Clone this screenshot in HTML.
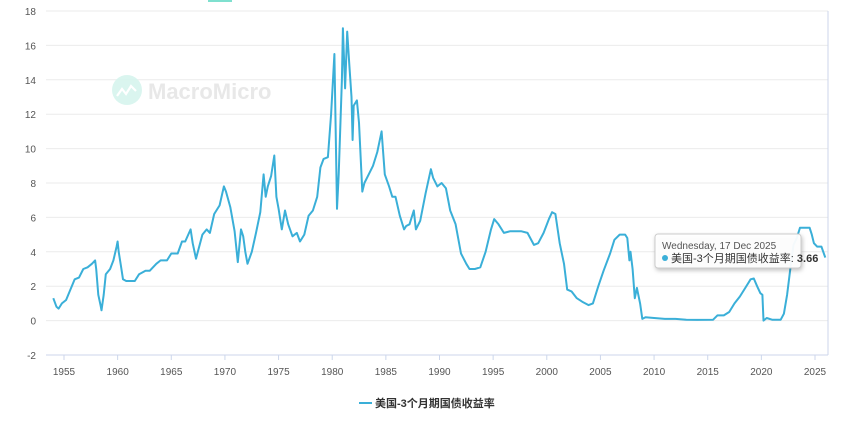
<!DOCTYPE html>
<html><head><meta charset="utf-8"><style>
body{margin:0;background:#fff;width:852px;height:424px;overflow:hidden;font-family:"Liberation Sans","Noto Sans CJK SC",sans-serif}
svg text{font-family:"Liberation Sans","Noto Sans CJK SC",sans-serif}
</style></head><body>
<svg id="chart" width="852" height="424" xmlns="http://www.w3.org/2000/svg">
<rect x="208" y="0" width="24" height="2" fill="#7fe0cf"/>
<g id="grid"></g>
<g opacity="0.9">
<circle cx="127" cy="90" r="15" fill="#d6f5ee"/>
<path d="M117 96 l5-7 4 5 5-8 5 5" stroke="#fff" stroke-width="2.2" fill="none"/>
<text x="148" y="99" font-size="22" font-weight="bold" fill="#e6e6e6">MacroMicro</text>
</g>
<g id="xaxis"></g>
<g id="yaxis"></g>
<path id="line" fill="none" stroke="#3aafd8" stroke-width="2" stroke-linejoin="round"/>
<g>
<rect x="655" y="234" width="146" height="34" rx="3" fill="#fff" fill-opacity="0.95" stroke="#ccc" style="filter:drop-shadow(1px 2px 2px rgba(0,0,0,0.25))"/>
<text x="662" y="249" font-size="10" fill="#555">Wednesday, 17 Dec 2025</text>
<circle cx="665" cy="258" r="3" fill="#3aafd8"/>
<text x="671" y="262" font-size="11" fill="#333">美国-3个月期国债收益率: <tspan font-weight="bold">3.66</tspan></text>
</g>
<g>
<line x1="359" y1="403" x2="372" y2="403" stroke="#3aafd8" stroke-width="2"/>
<text x="375" y="407" font-size="11" font-weight="bold" fill="#333">美国-3个月期国债收益率</text>
</g>
</svg>
<script>
const yTicks=[-2,0,2,4,6,8,10,12,14,16,18];
const xTicks=[1955,1960,1965,1970,1975,1980,1985,1990,1995,2000,2005,2010,2015,2020,2025];
const years=[1954.0,1954.3,1954.5,1954.8,1955.2,1955.6,1956.0,1956.4,1956.8,1957.2,1957.6,1957.9,1958.0,1958.2,1958.4,1958.5,1958.7,1958.9,1959.3,1959.6,1959.9,1960.0,1960.1,1960.3,1960.5,1960.8,1961.2,1961.6,1962.0,1962.6,1963.0,1963.6,1964.0,1964.6,1965.0,1965.6,1966.0,1966.3,1966.8,1967.0,1967.3,1967.6,1967.9,1968.3,1968.6,1969.0,1969.5,1969.9,1970.1,1970.5,1970.9,1971.2,1971.5,1971.7,1971.9,1972.1,1972.5,1972.9,1973.3,1973.6,1973.8,1974.0,1974.3,1974.6,1974.8,1975.0,1975.3,1975.6,1975.9,1976.3,1976.7,1977.0,1977.4,1977.8,1978.2,1978.6,1978.9,1979.2,1979.6,1979.9,1980.2,1980.3,1980.45,1980.6,1980.9,1981.0,1981.2,1981.4,1981.6,1981.8,1981.9,1982.0,1982.3,1982.5,1982.8,1983.0,1983.4,1983.8,1984.2,1984.6,1984.9,1985.3,1985.6,1985.9,1986.3,1986.7,1986.9,1987.2,1987.6,1987.8,1988.2,1988.7,1989.2,1989.4,1989.8,1990.2,1990.6,1991.0,1991.5,1992.0,1992.5,1992.8,1993.3,1993.8,1994.3,1994.8,1995.1,1995.5,1996.0,1996.6,1997.0,1997.6,1998.2,1998.8,1999.2,1999.7,2000.2,2000.5,2000.8,2001.2,2001.6,2001.9,2002.3,2002.8,2003.3,2003.9,2004.3,2004.8,2005.3,2005.9,2006.3,2006.8,2007.3,2007.5,2007.7,2007.8,2008.0,2008.2,2008.4,2008.7,2008.9,2009.2,2010,2011,2012,2013,2014,2015.5,2015.9,2016.5,2017.0,2017.5,2018.0,2018.5,2019.0,2019.3,2019.6,2019.9,2020.1,2020.2,2020.5,2021,2021.8,2022.1,2022.4,2022.7,2023.0,2023.3,2023.6,2024.0,2024.5,2024.7,2024.9,2025.2,2025.6,2025.96];
const rates=[1.3,0.8,0.7,1.0,1.2,1.8,2.4,2.5,3.0,3.1,3.3,3.5,3.0,1.5,0.9,0.6,1.5,2.7,3.0,3.5,4.3,4.6,4.0,3.2,2.4,2.3,2.3,2.3,2.7,2.9,2.9,3.3,3.5,3.5,3.9,3.9,4.6,4.6,5.3,4.5,3.6,4.3,5.0,5.3,5.1,6.2,6.7,7.8,7.5,6.6,5.2,3.4,5.3,4.9,4.0,3.3,4.0,5.1,6.3,8.5,7.2,7.8,8.4,9.6,7.2,6.5,5.3,6.4,5.6,4.9,5.1,4.6,5.0,6.1,6.4,7.2,8.9,9.4,9.5,12.0,15.5,12.0,6.5,8.5,14.0,17.0,13.5,16.8,14.8,13.0,10.5,12.5,12.8,11.5,7.5,8.0,8.5,9.0,9.8,11.0,8.5,7.8,7.2,7.2,6.1,5.3,5.5,5.6,6.4,5.3,5.8,7.4,8.8,8.3,7.8,8.0,7.7,6.4,5.6,3.9,3.3,3.0,3.0,3.1,4.0,5.3,5.9,5.6,5.1,5.2,5.2,5.2,5.1,4.4,4.5,5.1,5.9,6.3,6.2,4.5,3.3,1.8,1.7,1.3,1.1,0.9,1.0,2.0,2.9,3.9,4.7,5.0,5.0,4.8,3.5,4.0,3.0,1.3,1.9,1.0,0.1,0.2,0.15,0.1,0.1,0.05,0.04,0.05,0.3,0.3,0.5,1.0,1.4,1.9,2.4,2.45,2.0,1.6,1.5,0.0,0.15,0.05,0.05,0.4,1.5,3.0,4.4,4.8,5.4,5.4,5.4,5.0,4.5,4.3,4.3,3.66];
const NS="http://www.w3.org/2000/svg";
const L=46,R=828,T=11,B=355;
const x=v=>64+(v-1955)*(815-64)/70;
const y=v=>T+(18-v)*(B-T)/20;
const grid=document.getElementById('grid'),ya=document.getElementById('yaxis'),xa=document.getElementById('xaxis');
function mk(tag,at,parent){const e=document.createElementNS(NS,tag);for(const k in at)e.setAttribute(k,at[k]);parent.appendChild(e);return e;}
yTicks.forEach(t=>{
const g=mk('line',{x1:L,x2:R,y1:y(t),y2:y(t),stroke:'#ebebeb','stroke-width':1},grid);


const tx=mk('text',{x:36,y:y(t)+4,'text-anchor':'end','font-size':10,fill:'#555'},ya);
tx.textContent=t;


});
mk('line',{x1:L,x2:R,y1:B,y2:B,stroke:'#ccd6eb'},xa);
mk('line',{x1:R,x2:R,y1:T,y2:B,stroke:'#ccd6eb'},xa);
xTicks.forEach(t=>{
mk('line',{x1:x(t),x2:x(t),y1:B,y2:B+5,stroke:'#ccd6eb'},xa);
const tx=mk('text',{x:x(t),y:B+20,'text-anchor':'middle','font-size':10,fill:'#555'},xa);
tx.textContent=t;


});
document.getElementById('line').setAttribute('d',years.map((v,i)=>(i?'L':'M')+x(v).toFixed(1)+' '+y(rates[i]).toFixed(1)).join(' '));
</script>
</body></html>
